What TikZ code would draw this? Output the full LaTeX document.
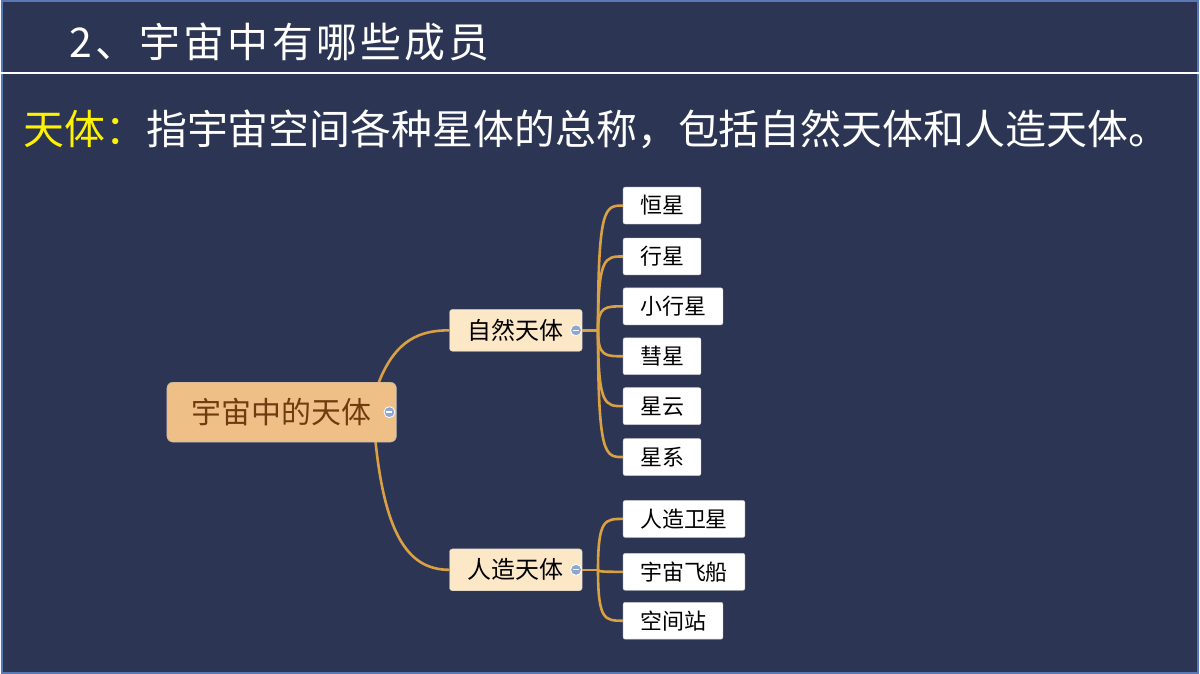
\documentclass[tikz,border=0pt]{standalone}
\usepackage{fontspec}
\newfontfamily\cjk{Noto Sans CJK SC}
\newfontfamily\cjkw[LetterSpace=8]{Noto Sans CJK SC}
\begin{document}
\begin{tikzpicture}[x=1pt,y=-1pt,
  conn/.style={draw=edgec,line width=2.6pt},
  leaf/.style={draw=gray!40,fill=white,rounded corners=2pt,minimum height=37pt,anchor=west,inner xsep=17pt,font=\cjk\fontsize{22}{22}\selectfont,text=black},
  mid/.style={draw=gray!50,fill=midf,rounded corners=3pt,minimum height=42pt,minimum width=133pt,font=\cjk\fontsize{24}{24}\selectfont,text=black},
  tog/.style={circle,fill=togc,draw=white,line width=0.8pt,inner sep=0pt,minimum size=11pt}]
\definecolor{bg}{HTML}{2C3654}
\definecolor{edgec}{HTML}{D9A144}
\definecolor{midf}{HTML}{FCE8C6}
\definecolor{rootf}{HTML}{EFBF88}
\definecolor{togc}{HTML}{8FA6CF}
\fill[bg] (0,0) rectangle (1200,675);
\draw[color={rgb,255:red,90;green,120;blue,180},line width=2pt] (1,1) rectangle (1199,674);
\draw[white,line width=2.5pt] (0,73) -- (1200,73);
\node[anchor=west,text=white,font=\cjkw\fontsize{41}{41}\selectfont,inner sep=0pt] (title) at (68,42) {2、宇宙中有哪些成员};
\node[anchor=west,font=\cjk\fontsize{41}{41}\selectfont,text=white,inner sep=0pt] (def) at (22,130) {\textcolor{yellow}{天体：}指宇宙空间各种星体的总称，包括自然天体和人造天体。};
\coordinate (ra) at (378,384);
\coordinate (rb) at (375,442);
\coordinate (ja) at (598,331);
\coordinate (jb) at (598,571);
\node[mid,anchor=west] (nat) at (449,331) {自然天体\hspace{10pt}};
\node[mid,anchor=west] (art) at (449,571) {人造天体\hspace{10pt}};
\draw[conn] (ra) .. controls (395,340) and (420,331) .. (nat.west);
\draw[conn] (rb) .. controls (385,540) and (410,571) .. (art.west);
\draw[conn] (nat.east) -- (ja);
\draw[conn] (art.east) -- (jb);
\foreach \n/\t/\y in {a/恒星/206,b/行星/257,c/小行星/307,d/彗星/357,e/星云/407,f/星系/458}{
  \node[leaf] (l\n) at (623,\y) {\t};
  \draw[conn] (ja) .. controls (598,\y) and (605,\y) .. (l\n.west);
}
\foreach \n/\t/\y in {g/人造卫星/520,h/宇宙飞船/573,i/空间站/622}{
  \node[leaf] (l\n) at (623,\y) {\t};
  \draw[conn] (jb) .. controls (598,\y) and (605,\y) .. (l\n.west);
}
\node[draw=gray!60,fill=rootf,rounded corners=6pt,minimum width=230pt,minimum height=60pt,text={rgb,255:red,110;green,60;blue,15},font=\cjk\fontsize{30}{30}\selectfont] (root) at (281,413) {宇宙中的天体\hspace{8pt}};
\foreach \p/\q in {t1/{389,413},t2/{576,331},t3/{576,571}}{
  \node[tog] (\p) at (\q) {};
  \draw[white,line width=1.3pt] ([xshift=-3pt]\p.center) -- ([xshift=3pt]\p.center);
}
\end{tikzpicture}
\end{document}
